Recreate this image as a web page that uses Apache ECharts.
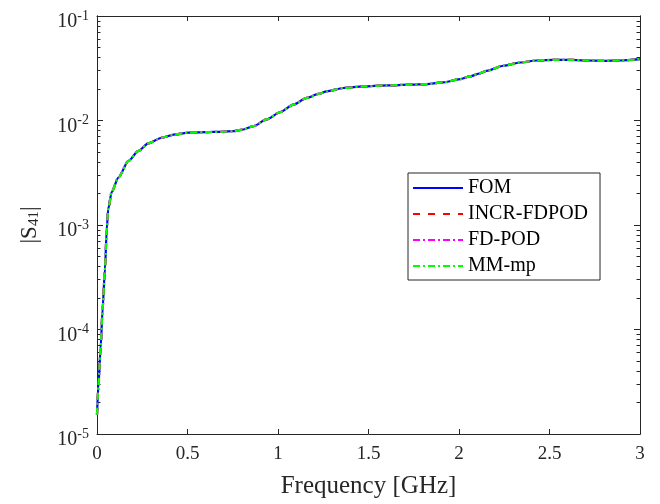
<!DOCTYPE html>
<html>
<head>
<meta charset="utf-8">
<script src="https://cdn.jsdelivr.net/npm/echarts@6/dist/echarts.min.js"></script>
<style>
  html, body { margin: 0; padding: 0; background: #fff; }
  #chart { width: 660px; height: 504px; }
</style>
</head>
<body>
<div id="chart"></div>
<script>
// Frequency samples (GHz)
const freq = [0, 0.007, 0.02, 0.031, 0.044, 0.054, 0.062, 0.081, 0.118, 0.173, 0.228, 0.283,
  0.357, 0.431, 0.504, 0.597, 0.69, 0.753, 0.808, 0.864, 0.937, 1.011, 1.085, 1.159, 1.223,
  1.269, 1.361, 1.471, 1.6, 1.729, 1.822, 1.913, 2.006, 2.061, 2.116, 2.153, 2.245, 2.337,
  2.429, 2.521, 2.613, 2.706, 2.797, 2.89, 3.0];

// |S41| for the full-order model and the three reduced models
const s41Fom = [1.53e-5, 2.74e-5, 6.59e-5, 1.585e-4, 3.81e-4, 9.16e-4, 1.419e-3, 2.06e-3, 2.84e-3,
  4.09e-3, 5.10e-3, 6.04e-3, 6.84e-3, 7.36e-3, 7.64e-3, 7.74e-3, 7.80e-3, 7.91e-3, 8.20e-3,
  8.83e-3, 1.023e-2, 1.199e-2, 1.419e-2, 1.644e-2, 1.795e-2, 1.901e-2, 2.046e-2, 2.12e-2,
  2.17e-2, 2.20e-2, 2.23e-2, 2.32e-2, 2.49e-2, 2.64e-2, 2.83e-2, 2.99e-2, 3.34e-2, 3.59e-2,
  3.75e-2, 3.81e-2, 3.81e-2, 3.75e-2, 3.72e-2, 3.75e-2, 3.87e-2];
const s41Incr = [1.53e-5, 2.74e-5, 6.59e-5, 1.585e-4, 3.81e-4, 9.16e-4, 1.419e-3, 2.06e-3, 2.84e-3,
  4.09e-3, 5.10e-3, 6.04e-3, 6.84e-3, 7.36e-3, 7.64e-3, 7.74e-3, 7.80e-3, 7.91e-3, 8.20e-3,
  8.83e-3, 1.023e-2, 1.199e-2, 1.419e-2, 1.644e-2, 1.795e-2, 1.901e-2, 2.046e-2, 2.12e-2,
  2.17e-2, 2.20e-2, 2.23e-2, 2.32e-2, 2.49e-2, 2.64e-2, 2.83e-2, 2.99e-2, 3.34e-2, 3.59e-2,
  3.75e-2, 3.81e-2, 3.81e-2, 3.75e-2, 3.72e-2, 3.75e-2, 3.87e-2];
const s41FdPod = [1.53e-5, 2.74e-5, 6.59e-5, 1.585e-4, 3.81e-4, 9.3e-4, 1.45e-3, 2.10e-3, 2.88e-3,
  4.12e-3, 5.12e-3, 6.05e-3, 6.84e-3, 7.36e-3, 7.64e-3, 7.74e-3, 7.80e-3, 7.91e-3, 8.20e-3,
  8.83e-3, 1.023e-2, 1.199e-2, 1.419e-2, 1.644e-2, 1.795e-2, 1.901e-2, 2.046e-2, 2.12e-2,
  2.17e-2, 2.20e-2, 2.23e-2, 2.32e-2, 2.49e-2, 2.64e-2, 2.83e-2, 2.99e-2, 3.34e-2, 3.59e-2,
  3.75e-2, 3.81e-2, 3.81e-2, 3.75e-2, 3.72e-2, 3.75e-2, 3.87e-2];
const s41MmMp = [1.53e-5, 2.74e-5, 6.59e-5, 1.585e-4, 3.81e-4, 9.16e-4, 1.419e-3, 2.06e-3, 2.84e-3,
  4.09e-3, 5.10e-3, 6.04e-3, 6.84e-3, 7.36e-3, 7.64e-3, 7.74e-3, 7.80e-3, 7.91e-3, 8.20e-3,
  8.83e-3, 1.023e-2, 1.199e-2, 1.419e-2, 1.644e-2, 1.795e-2, 1.901e-2, 2.046e-2, 2.12e-2,
  2.17e-2, 2.20e-2, 2.23e-2, 2.32e-2, 2.49e-2, 2.64e-2, 2.83e-2, 2.99e-2, 3.34e-2, 3.59e-2,
  3.75e-2, 3.81e-2, 3.81e-2, 3.75e-2, 3.72e-2, 3.75e-2, 3.87e-2];

const seriesNames = ['FOM', 'INCR-FDPOD', 'FD-POD', 'MM-mp'];
const xTicks = [0, 0.5, 1, 1.5, 2, 2.5, 3];
const yDecades = [1e-5, 1e-4, 1e-3, 1e-2, 1e-1];
const yMinorTicks = [];
yDecades.slice(0, 4).forEach(d => { for (let k = 2; k <= 9; k++) yMinorTicks.push(d * k); });

const FONT = 'Liberation Serif';
const INK = '#262626';

function pairs(ys) { return freq.map((f, i) => [f, ys[i]]); }

const chart = echarts.init(document.getElementById('chart'), null, { renderer: 'canvas' });

const logAxisBase = {
  type: 'log', logBase: 10, min: 1e-5, max: 1e-1,
  splitLine: { show: false }, minorTick: { show: false },
  axisLine: { show: true, lineStyle: { color: INK, width: 1 } }
};

function seriesOf(name, ys, color, type, z) {
  return {
    name, type: 'line', data: pairs(ys), symbol: 'none', smooth: 0.25, smoothMonotone: 'x',
    lineStyle: { color, width: 2.2, type }, itemStyle: { color }, z, animation: false
  };
}

chart.setOption({
  animation: false,
  backgroundColor: '#fff',
  grid: { left: 97, right: 20, top: 16, bottom: 68, containLabel: false },
  legend: {
    orient: 'vertical', left: 408, top: 173,
    data: seriesNames,
    itemWidth: 50, itemHeight: 14, itemGap: 6,
    padding: [5, 12, 4, 4],
    itemStyle: { opacity: 0 },
    borderColor: INK, borderWidth: 1, backgroundColor: '#fff',
    textStyle: { fontFamily: FONT, fontSize: 20, lineHeight: 20, color: '#000' }
  },
  xAxis: [
    {
      type: 'value', min: 0, max: 3, interval: 0.5, position: 'bottom',
      name: 'Frequency [GHz]', nameLocation: 'middle', nameGap: 40,
      nameTextStyle: { fontFamily: FONT, fontSize: 25, color: INK },
      axisLine: { show: true, onZero: false, lineStyle: { color: INK, width: 1 } },
      axisTick: { show: true, inside: true, length: 5, lineStyle: { color: INK } },
      axisLabel: { show: true, margin: 11, fontFamily: FONT, fontSize: 19, color: INK,
        formatter: v => xTicks.includes(v) ? String(v) : '' },
      splitLine: { show: false }
    },
    {
      type: 'value', min: 0, max: 3, interval: 0.5, position: 'top',
      axisLine: { show: true, onZero: false, lineStyle: { color: INK, width: 1 } },
      axisTick: { show: true, inside: true, length: 5, lineStyle: { color: INK } },
      axisLabel: { show: false }, splitLine: { show: false }
    }
  ],
  yAxis: [
    Object.assign({}, logAxisBase, {
      position: 'left',
      name: '{b||S}{sub|41}{b||}', nameLocation: 'middle', nameGap: 55,
      nameTextStyle: {
        color: INK,
        rich: {
          b: { fontFamily: FONT, fontSize: 23, color: INK },
          sub: { fontFamily: FONT, fontSize: 15, color: INK, padding: [9, 0, 0, 0] }
        }
      },
      axisTick: { show: true, inside: true, length: 6, lineStyle: { color: INK } },
      axisLabel: {
        show: true, margin: 8, color: INK, padding: [12, 0, 0, 0],
        formatter: v => '{b|10}{s|' + Math.round(Math.log10(v)) + '}',
        rich: {
          b: { fontFamily: FONT, fontSize: 20, color: INK },
          s: { fontFamily: FONT, fontSize: 14, color: INK, padding: [0, 0, 12, 0] }
        }
      }
    }),
    Object.assign({}, logAxisBase, {
      position: 'left',
      axisTick: { show: true, inside: true, length: 3.5, customValues: yMinorTicks, lineStyle: { color: INK } },
      axisLabel: { show: false }
    }),
    Object.assign({}, logAxisBase, {
      position: 'right',
      axisTick: { show: true, inside: true, length: 6, lineStyle: { color: INK } },
      axisLabel: { show: false }
    }),
    Object.assign({}, logAxisBase, {
      position: 'right',
      axisTick: { show: true, inside: true, length: 3.5, customValues: yMinorTicks, lineStyle: { color: INK } },
      axisLabel: { show: false }
    })
  ],
  series: [
    seriesOf('FOM', s41Fom, '#0000ff', 'solid', 2),
    seriesOf('INCR-FDPOD', s41Incr, '#ff0000', [7, 8], 3),
    seriesOf('FD-POD', s41FdPod, '#ff00ff', [7, 3, 2, 3], 4),
    seriesOf('MM-mp', s41MmMp, '#00ff00', [7, 3, 2, 3], 5)
  ]
});
</script>
</body>
</html>
